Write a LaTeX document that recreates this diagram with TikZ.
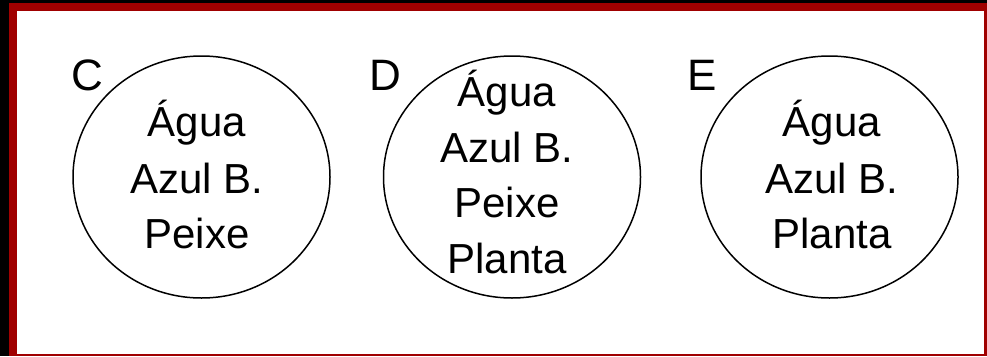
\documentclass[tikz,border=0pt]{standalone}
\usepackage{fontspec}
\setmainfont{Liberation Sans}
\usetikzlibrary{shapes.geometric}
\definecolor{framered}{RGB}{160,0,0}
\begin{document}
\begin{tikzpicture}[x=1pt,y=-1pt,
  set/.style={draw=black,line width=1.5pt,ellipse,inner sep=0pt,
              minimum width=257pt,minimum height=242pt},
  item/.style={anchor=base,inner sep=0pt,font=\fontsize{42}{50}\selectfont},
  tag/.style={anchor=base west,inner sep=0pt,font=\fontsize{44}{50}\selectfont}]
  % black page, red frame, white panel
  \fill[black] (0,0) rectangle (987,356);
  \fill[framered] (9,3) rectangle (987,356);
  \fill[white] (17,11) rectangle (984,354);
  \useasboundingbox (0,0) rectangle (987,356);

  % set C
  \node[set] (setC) at (201.5,177) {};
  \node[tag] (tagC) at (71,90) {C};
  \node[item] (c1) at (197,136.7) {Água};
  \node[item] (c2) at (197,193.3) {Azul B.};
  \node[item] (c3) at (197,248) {Peixe};

  % set D
  \node[set] (setD) at (512,177) {};
  \node[tag] (tagD) at (369,90) {D};
  \node[item] (d1) at (507,106.7) {Água};
  \node[item] (d2) at (507,162.7) {Azul B.};
  \node[item] (d3) at (507,217) {Peixe};
  \node[item] (d4) at (507,273) {Planta};

  % set E
  \node[set] (setE) at (829.5,177) {};
  \node[tag] (tagE) at (687,90) {E};
  \node[item] (e1) at (832,136.7) {Água};
  \node[item] (e2) at (832,193.3) {Azul B.};
  \node[item] (e3) at (832,248) {Planta};
\end{tikzpicture}
\end{document}
